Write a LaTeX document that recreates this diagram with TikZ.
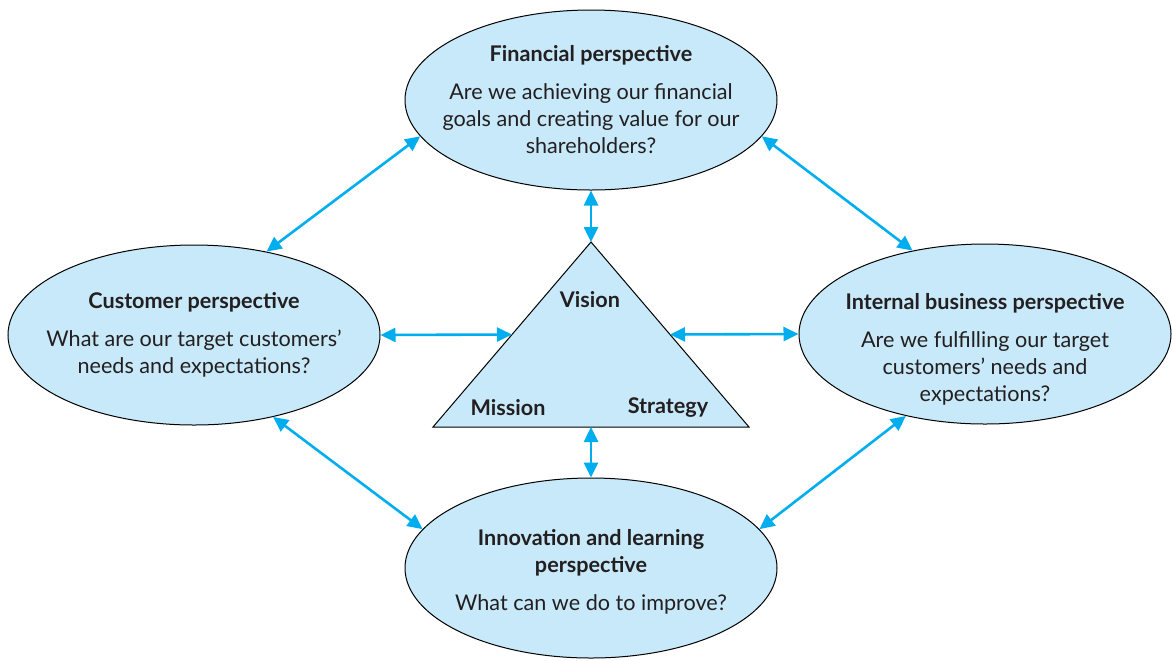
\documentclass[tikz,border=0pt]{standalone}
\usepackage{fontspec}
\setmainfont{Lato}
\usetikzlibrary{shapes.geometric,calc,arrows.meta}
\definecolor{skyline}{RGB}{0,174,239}
\definecolor{skyfill}{RGB}{199,233,249}
\definecolor{inktext}{RGB}{35,31,32}
\begin{document}
\begin{tikzpicture}[x=0.5pt,y=-0.5pt,
  persp/.style={ellipse,draw=black,line width=0.5pt,fill=skyfill,
    minimum width=186pt,minimum height=90pt,inner xsep=-25pt,inner ysep=-8pt,
    align=center,text=inktext,font=\fontsize{10.8}{13.5}\selectfont},
  corner/.style={text=inktext,font=\fontsize{10.8}{12}\selectfont\bfseries},
  link/.style={skyline,line width=1.3pt,
    {Triangle[length=7.5pt,width=7pt]}-{Triangle[length=7.5pt,width=7pt]}}]
  \useasboundingbox (0,0) rectangle (1172,660);
  % Perspektiven
  \node[persp] (fin) at (591,100) {\textbf{Financial perspective}\\[5.5pt]
    Are we achieving our financial\\ goals and creating value for our\\ shareholders?};
  \node[persp] (cus) at (194,335) {\textbf{Customer perspective}\\[5.5pt]
    What are our target customers'\\ needs and expectations?};
  \node[persp] (int) at (985,334) {\rule{0pt}{23.5pt}\textbf{Internal business perspective}\\[5.5pt]
    Are we fulfilling our target\\ customers' needs and\\ expectations?};
  \node[persp] (inn) at (591,568) {\rule{0pt}{11.5pt}\textbf{Innovation and learning}\\ \textbf{perspective}\\[5.5pt]
    What can we do to improve?};
  % Dreieck
  \coordinate (apex) at (591,242);
  \coordinate (mis) at (433,427);
  \coordinate (str) at (749,427);
  \draw[fill=skyfill,line width=0.5pt] (apex) -- (mis) -- (str) -- cycle;
  \node[corner] (vis) at (590,300) {Vision};
  \node[corner] (mlab) at (508,408) {Mission};
  \node[corner] (slab) at (668,408) {Strategy};
  \coordinate (lside) at ($(apex)!0.5!(mis)$);
  \coordinate (rside) at ($(apex)!0.5!(str)$);
  \coordinate (base) at ($(mis)!0.5!(str)$);
  % Pfeile
  \draw[link] (fin.south) -- (apex);
  \draw[link] (base) -- (inn.north);
  \draw[link] (cus.east) -- (lside);
  \draw[link] (int.west) -- (rside);
  \draw[link] (fin.192) -- (cus.49);
  \draw[link] (fin.348) -- (int.131);
  \draw[link] (cus.314) -- (inn.167);
  \draw[link] (int.226) -- (inn.13);
\end{tikzpicture}
\end{document}
